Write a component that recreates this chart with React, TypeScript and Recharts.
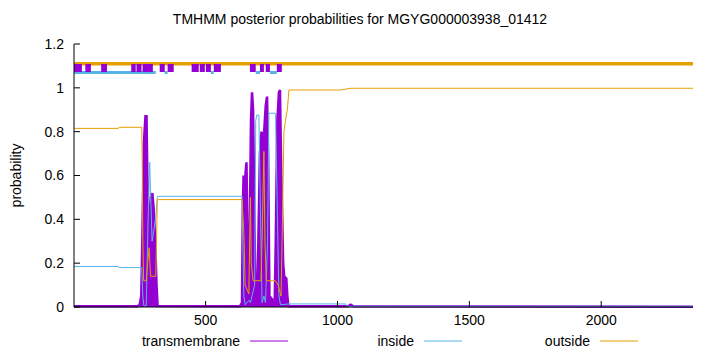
import React from 'react';
import { ComposedChart, Line, Area, XAxis, YAxis, Legend } from 'recharts';

const SEQ_LEN = 2348;
const xTicks = [500, 1000, 1500, 2000];
const yTicks = [0, 0.2, 0.4, 0.6, 0.8, 1, 1.2];

const TM = '#9400d3';
const IN = '#56b4e9';
const OUT = '#e69f00';
const FONT = '"Liberation Sans", Arial, sans-serif';

// transmembrane posterior
const tmPos = [1, 240, 250, 256, 260, 266, 272, 276, 279, 283, 288, 293, 298, 303, 309, 314, 318, 630, 638, 641, 644, 648, 652, 655, 659, 663, 667, 672, 676, 680, 685, 690, 696, 700, 706, 712, 716, 722, 728, 733, 737, 742, 762, 766, 772, 778, 782, 787, 790, 794, 798, 806, 810, 814, 1040, 1050, 1060, 2348];
const tmVal = [0.003, 0.003, 0.01, 0.05, 0.3, 0.75, 0.87, 0.87, 0.6, 0.45, 0.35, 0.5, 0.52, 0.45, 0.3, 0.1, 0.005, 0.003, 0.02, 0.45, 0.6, 0.55, 0.62, 0.66, 0.3, 0.05, 0.3, 0.85, 0.98, 0.9, 0.4, 0.02, 0.02, 0.3, 0.7, 0.8, 0.75, 0.8, 0.92, 0.96, 0.7, 0.05, 0.02, 0.3, 0.85, 0.98, 0.99, 0.6, 0.44, 0.2, 0.14, 0.13, 0.05, 0.003, 0.003, 0.01, 0.003, 0.001];

// inside posterior
const inPos = [1, 170, 172, 258, 262, 266, 275, 282, 288, 292, 297, 305, 312, 317, 638, 641, 645, 650, 664, 670, 686, 690, 694, 702, 707, 714, 721, 727, 735, 740, 765, 771, 778, 784, 816, 1031, 1035, 2348];
const inVal = [0.185, 0.185, 0.18, 0.18, 0.05, 0.005, 0.005, 0.4, 0.66, 0.5, 0.3, 0.36, 0.42, 0.505, 0.505, 0.3, 0.05, 0.01, 0.03, 0.02, 0.1, 0.85, 0.876, 0.876, 0.5, 0.02, 0.05, 0.02, 0.3, 0.884, 0.884, 0.5, 0.05, 0.01, 0.014, 0.014, 0.003, 0.003];

// outside posterior
const outPos = [1, 170, 172, 258, 260, 262, 265, 275, 280, 286, 291, 305, 311, 314, 317, 638, 645, 650, 664, 667, 670, 673, 680, 710, 714, 721, 725, 730, 765, 775, 786, 790, 797, 803, 810, 816, 1012, 1050, 2348];
const outVal = [0.815, 0.815, 0.82, 0.82, 0.62, 0.3, 0.12, 0.12, 0.2, 0.27, 0.14, 0.14, 0.14, 0.3, 0.49, 0.49, 0.34, 0.1, 0.06, 0.3, 0.5, 0.2, 0.12, 0.12, 0.3, 0.71, 0.3, 0.12, 0.12, 0.1, 0.05, 0.3, 0.8, 0.853, 0.9, 0.99, 0.99, 0.998, 0.998];

// predicted topology drawn above the curves
const tmTop = [[1, 31], [44, 65], [104, 126], [218, 235], [238, 257], [261, 300], [326, 345], [356, 379], [447, 474], [478, 497], [501, 520], [531, 558], [668, 690], [706, 721], [728, 744], [770, 789]];
const inTop = [[1, 311], [345, 356], [520, 531], [690, 706], [744, 770]];
const outTop = [[1, SEQ_LEN]];
const TOP_LEVELS = { out: 1.11, tm: 1.09, in: 1.07 };

const legendItems = [
  { name: 'transmembrane', color: TM, end: 240 },
  { name: 'inside', color: IN, end: 414 },
  { name: 'outside', color: OUT, end: 590 },
];

const toPoints = (pos: number[], val: number[]) => pos.map((x, i) => ({ x, y: val[i] }));
const toSegments = (ranges: number[][], level: number) =>
  ranges.flatMap(([a, b]) => [{ x: a, y: level }, { x: b, y: level }, { x: b + 0.01, y: null }]);

const tmData = toPoints(tmPos, tmVal);
const inData = toPoints(inPos, inVal);
const outData = toPoints(outPos, outVal);

const LegendRow = () => (
  <svg width={720} height={20} style={{ display: 'block' }}>
    {legendItems.map((it) => (
      <g key={it.name}>
        <text x={it.end} y={15} textAnchor="end" fontSize={14} fontFamily={FONT} fill="#000">{it.name}</text>
        <line x1={it.end + 10} x2={it.end + 48} y1={10} y2={10} stroke={it.color} strokeWidth={1} />
      </g>
    ))}
  </svg>
);

const tickStyle = { fontSize: 14, fill: '#000', fontFamily: FONT };

export default function App() {
  return (
    <div style={{ position: 'absolute', left: 0, top: 0, width: 720, height: 352, background: '#fff', fontFamily: FONT }}>
      <div style={{ position: 'absolute', top: 11, left: 0, width: 720, textAlign: 'center', fontSize: 14, color: '#000' }}>
        TMHMM posterior probabilities for MGYG000003938_01412
      </div>
      <ComposedChart width={720} height={352} margin={{ top: 44, right: 27, left: 0, bottom: 0 }}>
        <XAxis xAxisId="b" dataKey="x" type="number" domain={[1, SEQ_LEN]} ticks={xTicks} allowDataOverflow
          height={45} tickSize={-6} tickMargin={14} tick={tickStyle} stroke="#000" />
        <XAxis xAxisId="t" orientation="top" dataKey="x" type="number" domain={[1, SEQ_LEN]} ticks={xTicks} allowDataOverflow
          height={0} tickSize={-6} tickFormatter={() => ''} stroke="#000" />
        <YAxis yAxisId="l" type="number" domain={[0, 1.2]} ticks={yTicks} width={74} tickSize={-6} tickMargin={16}
          tick={tickStyle} stroke="#000"
          label={{
            content: (p: any) => {
              const vb = p.viewBox || { y: 44, height: 263 };
              const cy = vb.y + vb.height / 2;
              return (
                <text x={16} y={cy} transform={`rotate(-90 16 ${cy})`} textAnchor="middle" dominantBaseline="central"
                  fontSize={14} fontFamily={FONT} fill="#000">probability</text>
              );
            },
          }} />
        <YAxis yAxisId="r" orientation="right" type="number" domain={[0, 1.2]} ticks={yTicks} width={0} tickSize={-6}
          tickFormatter={() => ''} stroke="#000" />
        <Legend verticalAlign="middle" layout="horizontal" content={() => <LegendRow />}
          wrapperStyle={{ top: 331, left: 0, width: 720, height: 20 }} />

        <Area xAxisId="b" yAxisId="l" data={tmData} dataKey="y" type="linear" stroke={TM} strokeWidth={2.5}
          fill={TM} fillOpacity={1} baseValue={0} isAnimationActive={false} dot={false} activeDot={false} />
        <Line xAxisId="b" yAxisId="l" data={inData} dataKey="y" type="linear" stroke={IN} strokeWidth={1}
          dot={false} activeDot={false} isAnimationActive={false} />
        <Line xAxisId="b" yAxisId="l" data={outData} dataKey="y" type="linear" stroke={OUT} strokeWidth={1}
          dot={false} activeDot={false} isAnimationActive={false} />

        <Line xAxisId="b" yAxisId="l" data={toSegments(outTop, TOP_LEVELS.out)} dataKey="y" type="linear" stroke={OUT}
          strokeWidth={3.5} connectNulls={false} dot={false} activeDot={false} isAnimationActive={false} />
        <Line xAxisId="b" yAxisId="l" data={toSegments(inTop, TOP_LEVELS.in)} dataKey="y" type="linear" stroke={IN}
          strokeWidth={3} connectNulls={false} dot={false} activeDot={false} isAnimationActive={false} />
        <Line xAxisId="b" yAxisId="l" data={toSegments(tmTop, TOP_LEVELS.tm)} dataKey="y" type="linear" stroke={TM}
          strokeWidth={8} strokeLinecap="butt" connectNulls={false} dot={false} activeDot={false} isAnimationActive={false} />
      </ComposedChart>
    </div>
  );
}
